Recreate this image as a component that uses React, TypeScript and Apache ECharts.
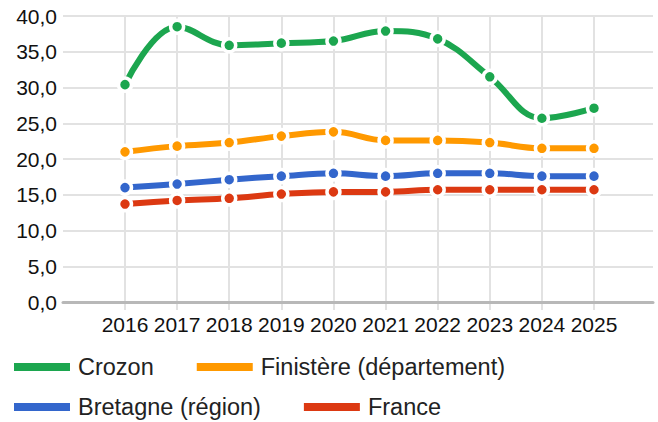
import React, { useEffect, useRef } from "react";
import * as echarts from "echarts";

const years = ["2016", "2017", "2018", "2019", "2020", "2021", "2022", "2023", "2024", "2025"];
const seriesNames = ["Crozon", "Finistère (département)", "Bretagne (région)", "France"];
const crozon = [30.4, 38.5, 35.9, 36.2, 36.5, 37.9, 36.8, 31.5, 25.7, 27.1];
const finistere = [21.0, 21.8, 22.3, 23.2, 23.8, 22.6, 22.6, 22.3, 21.5, 21.5];
const bretagne = [16.0, 16.5, 17.1, 17.6, 18.0, 17.6, 18.0, 18.0, 17.6, 17.6];
const france = [13.7, 14.2, 14.5, 15.1, 15.4, 15.4, 15.7, 15.7, 15.7, 15.7];
const colors = ["#1ca64f", "#ff9900", "#3366cc", "#dc3912"];

const FONT = "'Liberation Sans', Arial, sans-serif";

export default function App() {
  const ref = useRef<HTMLDivElement>(null);
  useEffect(() => {
    if (!ref.current) return;
    const chart = echarts.init(ref.current, null, { renderer: "svg" });
    const values = [crozon, finistere, bretagne, france];
    const legendText = { fontFamily: FONT, fontSize: 23.5, color: "#222", padding: [0, 0, 0, 3] };
    const legendItem = (i: number) => ({
      name: seriesNames[i],
      icon: "rect",
      itemStyle: { color: colors[i], borderWidth: 0, borderColor: "rgba(0,0,0,0)" },
    });
    const legendBase = {
      left: 14,
      padding: 0,
      icon: "rect",
      itemWidth: 56,
      itemHeight: 8,
      itemGap: 43,
      itemStyle: { borderWidth: 0, borderColor: "rgba(0,0,0,0)" },
      lineStyle: { width: 0 },
      textStyle: legendText,
    };
    chart.setOption({
      animation: false,
      grid: [
        { left: 63, right: 5, top: 16, bottom: 120 },
        { left: 125, right: 64, top: 16, bottom: 120 },
      ],
      legend: [
        { ...legendBase, data: [legendItem(0), legendItem(1)], top: 355 },
        { ...legendBase, data: [legendItem(2), legendItem(3)], top: 395 },
      ],
      xAxis: [
        {
          gridIndex: 0,
          type: "value",
          min: 0,
          max: 1,
          z: 3,
          axisLine: { show: true, lineStyle: { color: "#b8b8b8", width: 3 } },
          axisTick: { show: false },
          axisLabel: { show: false },
          splitLine: { show: false },
        },
        {
          gridIndex: 1,
          type: "category",
          data: years,
          boundaryGap: false,
          z: 0,
          axisLine: { show: false },
          axisTick: { show: true, interval: 0, length: 8, lineStyle: { color: "#e2e2e2", width: 2 } },
          splitLine: { show: true, interval: 0, lineStyle: { color: "#e2e2e2", width: 2 } },
          axisLabel: { interval: 0, fontFamily: FONT, fontSize: 21, color: "#111", margin: 12 },
        },
      ],
      yAxis: [
        {
          gridIndex: 0,
          type: "value",
          min: 0,
          max: 40,
          interval: 5,
          axisLine: { show: false },
          axisTick: { show: false },
          splitLine: { show: true, lineStyle: { color: "#e2e2e2", width: 2 } },
          axisLabel: {
            fontFamily: FONT,
            fontSize: 21,
            color: "#111",
            margin: 6,
            formatter: (v: number) => v.toFixed(1).replace(".", ","),
          },
        },
        {
          gridIndex: 1,
          type: "value",
          min: 0,
          max: 40,
          interval: 5,
          show: false,
          splitLine: { show: false },
        },
      ],
      series: seriesNames.map((name, i) => ({
        name,
        type: "line",
        xAxisIndex: 1,
        yAxisIndex: 1,
        data: values[i],
        smooth: 0.4,
        symbol: "circle",
        symbolSize: 13,
        z: 10 - i,
        lineStyle: { color: colors[i], width: 6 },
        itemStyle: { color: colors[i], borderColor: "#ffffff", borderWidth: 3.5 },
      })),
    });
    return () => chart.dispose();
  }, []);
  return (
    <div
      ref={ref}
      style={{ position: "fixed", left: 0, top: 0, width: 658, height: 422, background: "#fff" }}
    />
  );
}
